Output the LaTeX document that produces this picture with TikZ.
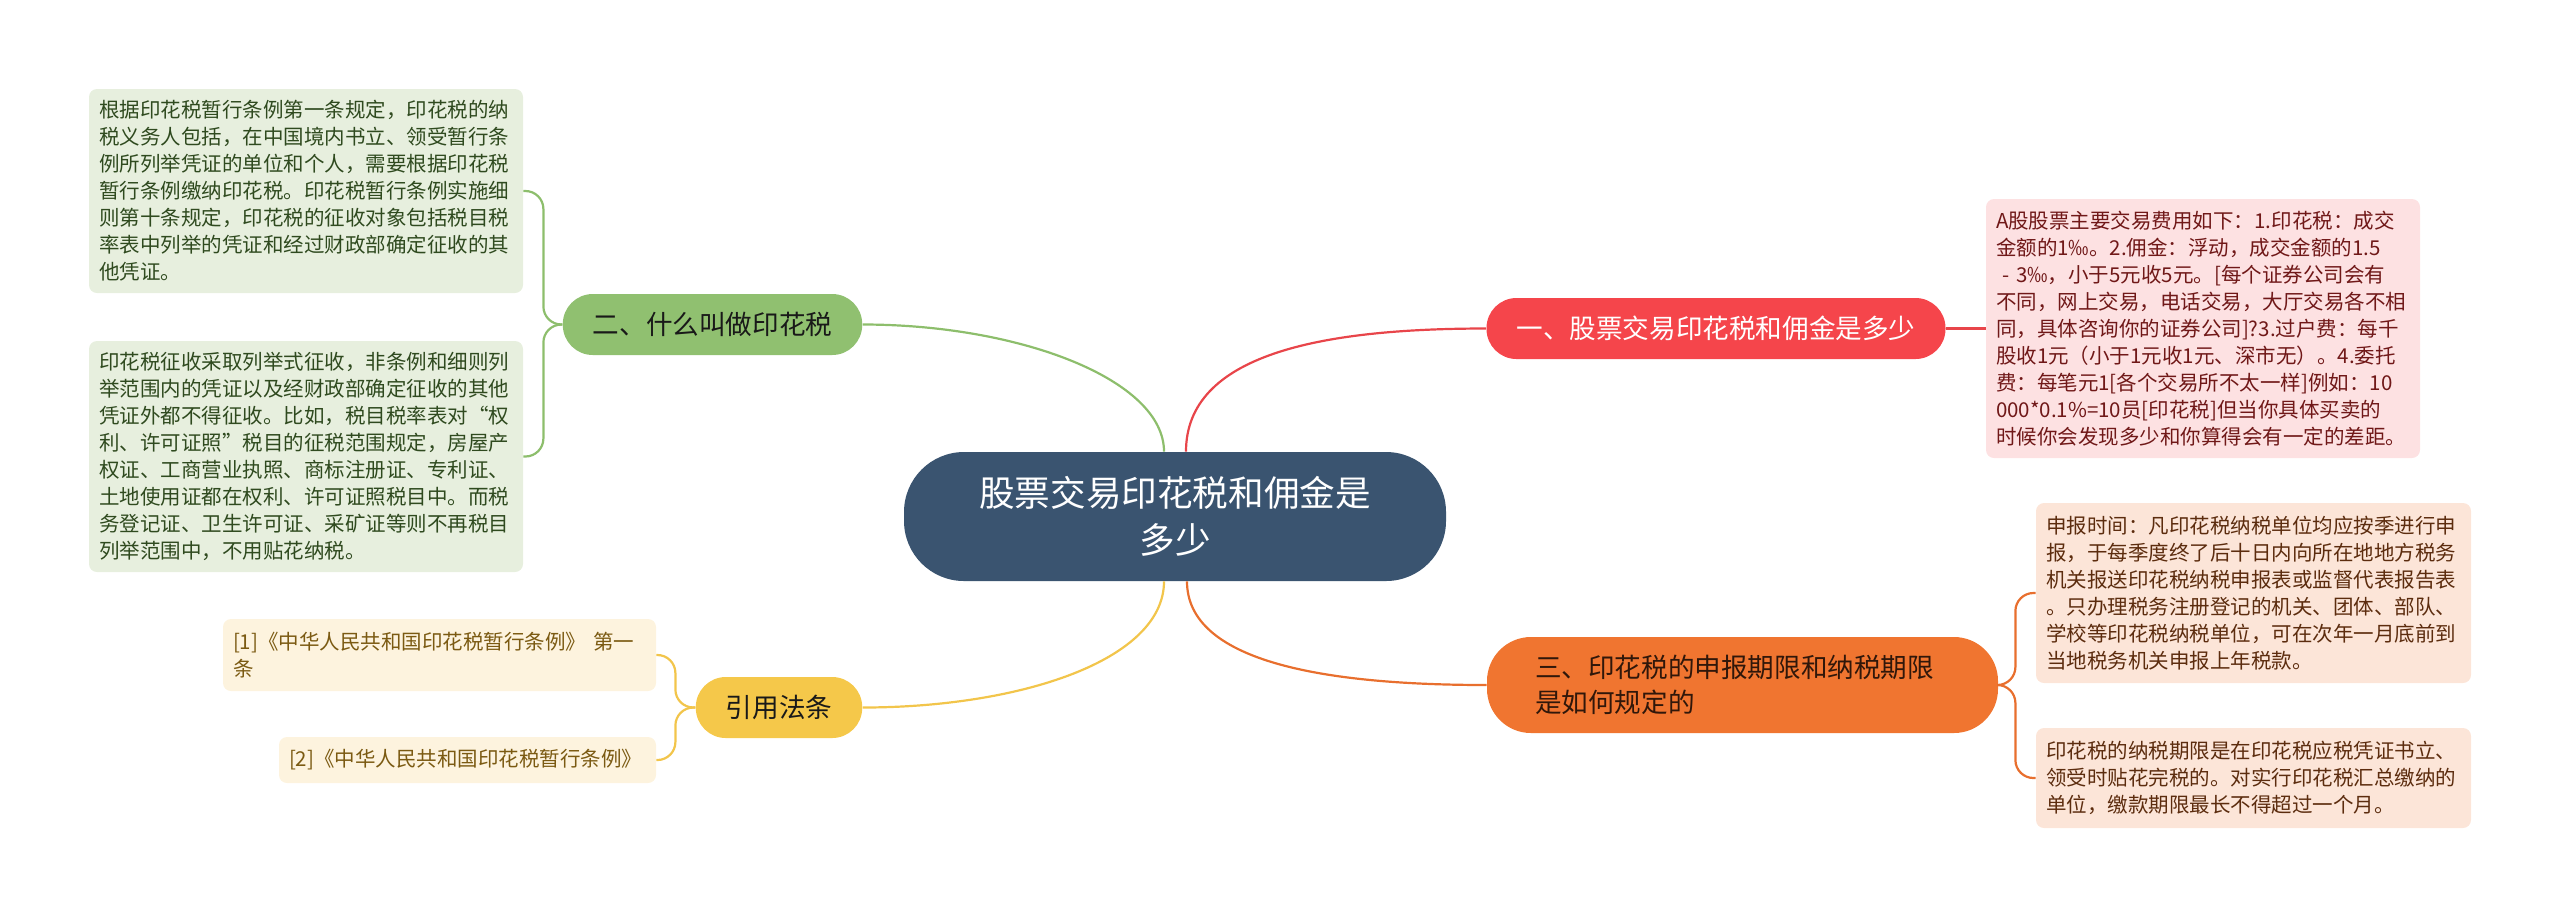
\documentclass[tikz,border=0pt]{standalone}
\usepackage{fontspec}
\setmainfont{Noto Sans CJK SC}
\usetikzlibrary{positioning}

\definecolor{rootblue}{HTML}{3A5470}
\definecolor{redfill}{HTML}{F5454B}
\definecolor{orangefill}{HTML}{F07530}
\definecolor{greenfill}{HTML}{90C070}
\definecolor{yellowfill}{HTML}{F5C84A}
\definecolor{redleaf}{HTML}{FDE1E2}
\definecolor{orangeleaf}{HTML}{FCE5D8}
\definecolor{greenleaf}{HTML}{E7EFDE}
\definecolor{yellowleaf}{HTML}{FDF3DE}
\definecolor{redtext}{HTML}{701818}
\definecolor{orangetext}{HTML}{5C2C0E}
\definecolor{greentext}{HTML}{2F4A1F}
\definecolor{yellowtext}{HTML}{7B5A12}
\definecolor{redline}{HTML}{E8454A}
\definecolor{orangeline}{HTML}{E86F2E}
\definecolor{greenline}{HTML}{8DBE6C}
\definecolor{yellowline}{HTML}{F2C54B}

\begin{document}
\begin{tikzpicture}[
    x=0.5pt, y=-0.5pt,
    root/.style={rectangle, rounded corners=30pt, fill=rootblue, text=white, align=center,
        minimum width=271pt, minimum height=64.5pt, font=\fontsize{17.8}{23.5}\selectfont},
    branch/.style={rectangle, rounded corners=15pt, inner xsep=15pt, inner ysep=0pt,
        minimum height=30.5pt, font=\fontsize{13.3}{17.5}\selectfont},
    leaf/.style={rectangle, rounded corners=4pt, inner xsep=5pt, inner ysep=0pt, align=left,
        font=\fontsize{10.25}{13.5}\selectfont},
    link/.style={line width=1.1pt},
    every node/.style={font=\normalsize}
]
\useasboundingbox (0,0) rectangle (2560,918);

\node[root] (root) at (1175,516.5) {股票交易印花税和佣金是\\多少};

\node[branch, fill=redfill, text=white] (b1) at (1716,328.5) {一、股票交易印花税和佣金是多少};
\node[branch, fill=greenfill, text=black!90] (b2) at (712.5,324.5) {二、什么叫做印花税};
\node[branch, fill=orangefill, text=black!80!orangefill, rounded corners=22pt,
    inner xsep=24pt, minimum height=48pt, text width=207.5pt, align=left] (b3) at (1742.5,685)
    {三、印花税的申报期限和纳税期限\\是如何规定的};
\node[branch, fill=yellowfill, text=black!90] (b4) at (779,707.5) {引用法条};

% leaves
\node[leaf, fill=redleaf, text=redtext, text width=207pt, minimum height=129.5pt] (l1) at (2203,328.5)
    {A股股票主要交易费用如下：1.印花税：成交\\%
    金额的1‰。2.佣金：浮动，成交金额的1.5\\%
    \hspace*{0.3em}- 3‰，小于5元收5元。[每个证券公司会有\\%
    不同，网上交易，电话交易，大厅交易各不相\\%
    同，具体咨询你的证券公司]?3.过户费：每千\\%
    股收1元（小于1元收1元、深市无）。4.委托\\%
    费：每笔元1[各个交易所不太一样]例如：10\\%
    000*0.1\%=10员[印花税]但当你具体买卖的\\%
    时候你会发现多少和你算得会有一定的差距。};

\node[leaf, fill=greenleaf, text=greentext, text width=207pt, minimum height=102pt] (l2a) at (306,191)
    {根据印花税暂行条例第一条规定，印花税的纳\\%
    税义务人包括，在中国境内书立、领受暂行条\\%
    例所列举凭证的单位和个人，需要根据印花税\\%
    暂行条例缴纳印花税。印花税暂行条例实施细\\%
    则第十条规定，印花税的征收对象包括税目税\\%
    率表中列举的凭证和经过财政部确定征收的其\\%
    他凭证。};
\node[leaf, fill=greenleaf, text=greentext, text width=207pt, minimum height=115.5pt] (l2b) at (306,456.5)
    {印花税征收采取列举式征收，非条例和细则列\\%
    举范围内的凭证以及经财政部确定征收的其他\\%
    凭证外都不得征收。比如，税目税率表对“权\\%
    利、许可证照”税目的征税范围规定，房屋产\\%
    权证、工商营业执照、商标注册证、专利证、\\%
    土地使用证都在权利、许可证照税目中。而税\\%
    务登记证、卫生许可证、采矿证等则不再税目\\%
    列举范围中，不用贴花纳税。};

\node[leaf, fill=orangeleaf, text=orangetext, text width=207.5pt, minimum height=90pt] (l3a) at (2253.5,593)
    {申报时间：凡印花税纳税单位均应按季进行申\\%
    报，于每季度终了后十日内向所在地地方税务\\%
    机关报送印花税纳税申报表或监督代表报告表\\%
    。只办理税务注册登记的机关、团体、部队、\\%
    学校等印花税纳税单位，可在次年一月底前到\\%
    当地税务机关申报上年税款。};
\node[leaf, fill=orangeleaf, text=orangetext, text width=207.5pt, minimum height=50pt] (l3b) at (2253.5,778)
    {印花税的纳税期限是在印花税应税凭证书立、\\%
    领受时贴花完税的。对实行印花税汇总缴纳的\\%
    单位，缴款期限最长不得超过一个月。};

\node[leaf, fill=yellowleaf, text=yellowtext, text width=206.5pt, minimum height=36pt] (l4a) at (439.5,655)
    {[1]《中华人民共和国印花税暂行条例》 第一\\条};
\node[leaf, fill=yellowleaf, text=yellowtext, text width=178.5pt, minimum height=23pt] (l4b) at (467.5,760)
    {[2]《中华人民共和国印花税暂行条例》};

% main branches
\draw[link, redline] ([xshift=5.5pt]root.north) .. controls +(0,-97) and +(-166,0) .. (b1.west);
\draw[link, greenline] ([xshift=-5.5pt]root.north) .. controls +(0,-72) and +(157,0) .. (b2.east);
\draw[link, yellowline] ([xshift=-5.5pt]root.south) .. controls +(0,79) and +(157,0) .. (b4.east);
\draw[link, orangeline] ([xshift=6pt]root.south) .. controls +(0,79) and +(-167,0) .. (b3.west);

% leaf connectors
\draw[link, redline] (b1.east) -- (l1.west);
\draw[link, greenline, rounded corners=9pt] (b2.west) -- ++(-19,0) |- (l2a.east);
\draw[link, greenline, rounded corners=9pt] (b2.west) -- ++(-19,0) |- (l2b.east);
\draw[link, orangeline, rounded corners=9pt] (b3.east) -- ++(17,0) |- (l3a.west);
\draw[link, orangeline, rounded corners=9pt] (b3.east) -- ++(17,0) |- (l3b.west);
\draw[link, yellowline, rounded corners=9pt] (b4.west) -- ++(-20,0) |- (l4a.east);
\draw[link, yellowline, rounded corners=9pt] (b4.west) -- ++(-20,0) |- (l4b.east);

\end{tikzpicture}
\end{document}
